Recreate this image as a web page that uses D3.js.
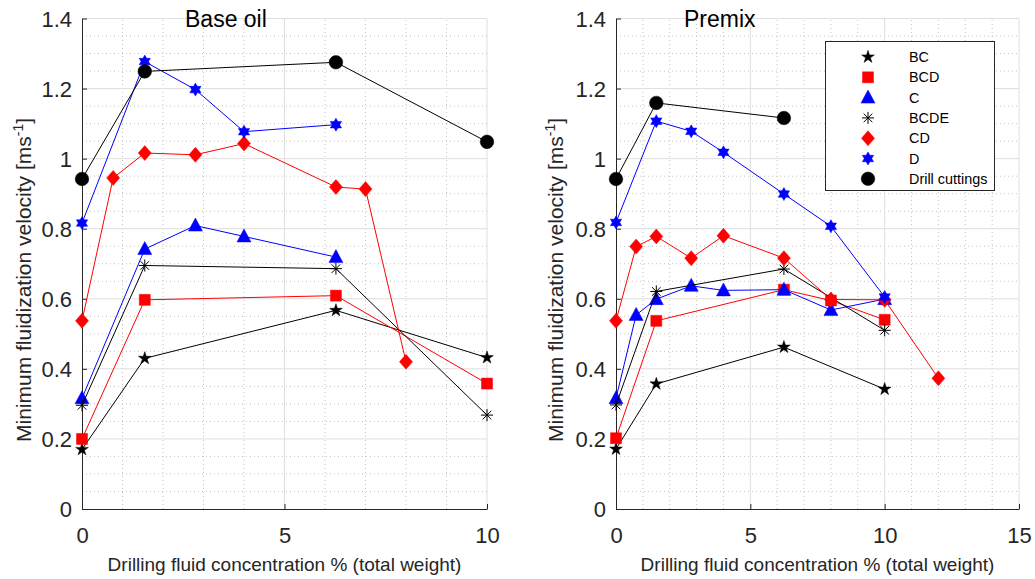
<!DOCTYPE html>
<html>
<head>
<meta charset="utf-8">
<script src="https://cdn.jsdelivr.net/npm/d3@7"></script>
<style>
  body { margin: 0; background: #fff; }
  svg { font-family: "Liberation Sans", Arial, sans-serif; }
</style>
</head>
<body>
<svg id="vis" width="1035" height="579"></svg>
<script>
// datos: nombres de series y puntos [x, y]
const seriesNames = ["BC", "BCD", "C", "BCDE", "CD", "D", "Drill cuttings"];
const yTicks = [0, 0.2, 0.4, 0.6, 0.8, 1, 1.2, 1.4];
const xTicksBase = [0, 5, 10];
const xTicksPremix = [0, 5, 10, 15];

// Base oil
const baseBC = [[0, 0.17], [1.55, 0.43], [6.27, 0.567], [10, 0.432]];
const baseBCD = [[0, 0.20], [1.55, 0.597], [6.27, 0.609], [10, 0.358]];
const baseC = [[0, 0.316], [1.55, 0.742], [2.8, 0.809], [4, 0.778], [6.27, 0.719]];
const baseBCDE = [[0, 0.296], [1.55, 0.695], [6.27, 0.686], [10, 0.268]];
const baseCD = [[0, 0.537], [0.77, 0.945], [1.55, 1.016], [2.8, 1.011], [4, 1.043], [6.27, 0.919], [7, 0.913], [8, 0.42]];
const baseD = [[0, 0.816], [1.55, 1.277], [2.8, 1.197], [4, 1.077], [6.27, 1.097]];
const baseDrill = [[0, 0.942], [1.55, 1.249], [6.27, 1.275], [10, 1.048]];

// Premix
const premixBC = [[0, 0.171], [1.5, 0.357], [6.25, 0.462], [10, 0.342]];
const premixBCD = [[0, 0.202], [1.5, 0.537], [6.25, 0.626], [8, 0.595], [10, 0.54]];
const premixC = [[0, 0.316], [0.75, 0.554], [1.5, 0.599], [2.8, 0.637], [4, 0.624], [6.25, 0.626], [8, 0.568], [10, 0.599]];
const premixBCDE = [[0, 0.297], [1.5, 0.621], [6.25, 0.685], [10, 0.51]];
const premixCD = [[0, 0.537], [0.75, 0.749], [1.5, 0.778], [2.8, 0.716], [4, 0.78], [6.25, 0.716], [8, 0.598], [10, 0.597], [12, 0.373]];
const premixD = [[0, 0.818], [1.5, 1.107], [2.8, 1.078], [4, 1.018], [6.25, 0.899], [8, 0.807], [10, 0.605]];
const premixDrill = [[0, 0.942], [1.5, 1.159], [6.25, 1.116]];

const colors = ["#000000", "#ff0000", "#0000ff", "#000000", "#ff0000", "#0000ff", "#000000"];
const markers = ["star", "square", "triangle", "asterisk", "diamond", "hexagram", "circle"];

const SVG = d3.select("#vis");
const axisColor = "#262626";

// formas de los marcadores
function markerPath(type) {
  if (type === "star") return d3.symbol(d3.symbolStar, 50)();
  if (type === "square") return "M-5.5,-5.5H5.5V5.5H-5.5Z";
  if (type === "triangle") return "M0,-7.5L7,5.5L-7,5.5Z";
  if (type === "diamond") return "M0,-7.5L6.5,0L0,7.5L-6.5,0Z";
  if (type === "circle") return d3.symbol(d3.symbolCircle, Math.PI * 6.8 * 6.8)();
  if (type === "hexagram") {
    const R = 6.5, r = R / Math.sqrt(3);
    const pts = d3.range(12).map(i => {
      const a = -Math.PI / 2 + i * Math.PI / 6;
      const rr = i % 2 === 0 ? R : r;
      return [rr * Math.cos(a), rr * Math.sin(a)];
    });
    return "M" + pts.map(p => p.join(",")).join("L") + "Z";
  }
  if (type === "asterisk") {
    const s = 6, d = 4.3;
    return `M0,${-s}V${s}M${-s},0H${s}M${-d},${-d}L${d},${d}M${-d},${d}L${d},${-d}`;
  }
}

function drawMarker(g, type, color, x, y) {
  const p = g.append("path")
    .attr("d", markerPath(type))
    .attr("transform", `translate(${x},${y})`);
  if (type === "asterisk") p.attr("fill", "none").attr("stroke", color).attr("stroke-width", 1);
  else p.attr("fill", color).attr("stroke", color).attr("stroke-width", 0.5);
}

function panel(opts) {
  const x = d3.scaleLinear().domain(opts.xDomain).range(opts.xRange);
  const y = d3.scaleLinear().domain([0, 1.4]).range([509, 18.5]);
  const g = SVG.append("g");

  // rejilla menor
  g.append("g").selectAll("line")
    .data(d3.range(opts.xDomain[0], opts.xDomain[1] + 0.001, 1).filter(v => v % 5 !== 0))
    .join("line")
    .attr("x1", d => x(d)).attr("x2", d => x(d))
    .attr("y1", y(0)).attr("y2", y(1.4))
    .attr("stroke", "#c4c4c4").attr("stroke-dasharray", "1,3");
  g.append("g").selectAll("line")
    .data(d3.range(0, 1.4001, 0.05).filter(v => Math.abs(v * 5 - Math.round(v * 5)) > 1e-6))
    .join("line")
    .attr("x1", x.range()[0]).attr("x2", x.range()[1])
    .attr("y1", d => y(d)).attr("y2", d => y(d))
    .attr("stroke", "#c4c4c4").attr("stroke-dasharray", "1,3");

  // rejilla mayor
  g.append("g").selectAll("line")
    .data(opts.xTicks.slice(1))
    .join("line")
    .attr("x1", d => x(d)).attr("x2", d => x(d))
    .attr("y1", y(0)).attr("y2", y(1.4))
    .attr("stroke", "#dedede");
  g.append("g").selectAll("line")
    .data(yTicks.slice(1))
    .join("line")
    .attr("x1", x.range()[0]).attr("x2", x.range()[1])
    .attr("y1", d => y(d)).attr("y2", d => y(d))
    .attr("stroke", "#dedede");

  // ejes
  const xAxis = g.append("g")
    .attr("transform", `translate(0,${y(0)})`)
    .call(d3.axisBottom(x).tickValues(opts.xTicks).tickSizeInner(-5).tickSizeOuter(0).tickPadding(18));
  const yAxis = g.append("g")
    .attr("transform", `translate(${x(0)},0)`)
    .call(d3.axisLeft(y).tickValues(yTicks).tickSizeInner(-5).tickSizeOuter(0).tickPadding(10)
      .tickFormat(d => d3.format("~g")(d)));
  [xAxis, yAxis].forEach(a => {
    a.select(".domain").attr("stroke", axisColor);
    a.selectAll(".tick line").attr("stroke", axisColor);
    a.selectAll(".tick text").attr("fill", axisColor)
      .attr("font-size", 22).attr("font-family", "Liberation Sans, Arial, sans-serif");
  });
  yAxis.selectAll(".tick text").attr("dy", "0.35em");

  // lineas y marcadores
  const line = d3.line().x(d => x(d[0])).y(d => y(d[1]));
  opts.series.forEach((pts, i) => {
    g.append("path").datum(pts)
      .attr("d", line)
      .attr("fill", "none")
      .attr("stroke", colors[i])
      .attr("stroke-width", 1);
    pts.forEach(p => drawMarker(g, markers[i], colors[i], x(p[0]), y(p[1])));
  });

  // titulo
  g.append("text")
    .attr("x", opts.titleX).attr("y", 27)
    .attr("font-size", 23).attr("fill", "#000")
    .text(opts.title);

  // etiquetas de ejes
  g.append("text")
    .attr("x", (x.range()[0] + x.range()[1]) / 2).attr("y", 571)
    .attr("text-anchor", "middle")
    .attr("font-size", 19).attr("fill", axisColor)
    .text("Drilling fluid concentration % (total weight)");
  const yl = g.append("text")
    .attr("transform", `translate(${opts.yLabelX},280) rotate(-90)`)
    .attr("text-anchor", "middle")
    .attr("font-size", 21).attr("fill", axisColor);
  yl.append("tspan").text("Minimum fluidization velocity [ms");
  yl.append("tspan").attr("baseline-shift", "super").attr("font-size", 14).text("-1");
  yl.append("tspan").text("]");
  return g;
}

panel({
  xDomain: [0, 10], xRange: [82, 487], xTicks: xTicksBase,
  title: "Base oil", titleX: 185, yLabelX: 31,
  series: [baseBC, baseBCD, baseC, baseBCDE, baseCD, baseD, baseDrill]
});
panel({
  xDomain: [0, 15], xRange: [616, 1019], xTicks: xTicksPremix,
  title: "Premix", titleX: 684, yLabelX: 563,
  series: [premixBC, premixBCD, premixC, premixBCDE, premixCD, premixD, premixDrill]
});

// leyenda
const legend = SVG.append("g");
legend.append("rect")
  .attr("x", 825.5).attr("y", 41.5).attr("width", 169).attr("height", 149)
  .attr("fill", "#fff").attr("stroke", axisColor).attr("stroke-width", 1);
seriesNames.forEach((name, i) => {
  const yy = 57 + i * 20.3;
  drawMarker(legend, markers[i], colors[i], 868, yy);
  legend.append("text")
    .attr("x", 909).attr("y", yy).attr("dy", "0.35em")
    .attr("font-size", 14.4).attr("fill", "#000")
    .text(name);
});
</script>
</body>
</html>
